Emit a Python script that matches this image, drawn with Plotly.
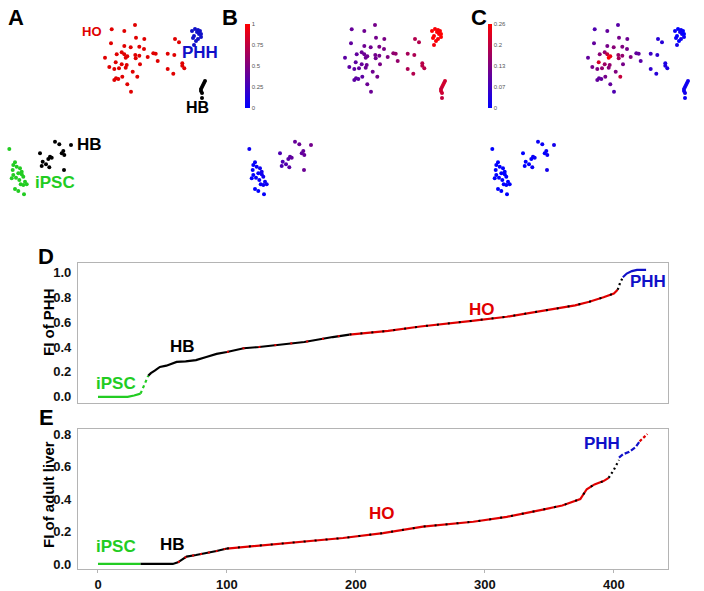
import plotly.graph_objects as go

W, H = 704, 591
FONT = "Liberation Sans, Arial, sans-serif"

# ---------------- embedding (t-SNE style) coordinates ----------------
ho_x = [111.7, 124.3, 135, 136, 144.3, 111, 124.3, 130.7, 139.3, 144, 121.7, 116.7, 124.3, 127.3,
        125.7, 105, 135.3, 139.3, 135.7, 147.7, 153.3, 155.7, 167.7, 174.3, 157.7, 175, 179, 115.7,
        121.7, 109.3, 114.3, 119, 125.7, 126.7, 140, 132.7, 137.3, 122.3, 118.3, 114.3, 116, 127.3,
        131, 167.7, 173.3, 182.3, 184.3, 182.3]
ho_y = [29.3, 31, 25, 37.7, 39, 43.3, 46, 47.3, 46.7, 49, 52.3, 54.3, 54.3, 56.3,
        57.7, 57.7, 55, 55.7, 58.3, 57, 53.3, 53.7, 53.7, 55, 61, 39, 42.3, 62.3,
        64.3, 67, 69, 68.3, 67.7, 65, 64.3, 71.7, 76.7, 76.7, 79, 80, 78.3, 84.3,
        91.7, 69, 73.7, 63.3, 68.3, 65.7]
ho_fi_phh = [0.40, 0.43, 0.46, 0.45, 0.48, 0.38, 0.43, 0.44, 0.48, 0.48, 0.41, 0.38, 0.42, 0.43,
             0.42, 0.36, 0.45, 0.46, 0.44, 0.50, 0.56, 0.58, 0.65, 0.68, 0.58, 0.70, 0.70, 0.36,
             0.40, 0.36, 0.36, 0.38, 0.42, 0.42, 0.48, 0.44, 0.46, 0.36, 0.36, 0.36, 0.36, 0.42,
             0.42, 0.68, 0.70, 0.72, 0.72, 0.72]
ho_fi_adult = [0.08, 0.10, 0.09, 0.12, 0.11, 0.10, 0.12, 0.14, 0.13, 0.12, 0.15, 0.14, 0.20, 0.24,
               0.26, 0.10, 0.16, 0.15, 0.17, 0.13, 0.10, 0.10, 0.06, 0.05, 0.09, 0.04, 0.04, 0.22,
               0.16, 0.12, 0.13, 0.15, 0.14, 0.15, 0.12, 0.13, 0.20, 0.12, 0.10, 0.10, 0.10, 0.10,
               0.08, 0.05, 0.04, 0.03, 0.03, 0.03]

phh_x = [192, 195, 197, 199, 194, 201, 198, 196, 193, 200, 198, 194, 201]
phh_y = [31, 29, 32, 34, 36, 37, 39, 41, 38, 31, 30, 45, 34]
phh_fi_phh = [1.0, 0.98, 1.0, 0.97, 0.99, 1.0, 0.96, 0.98, 1.0, 0.99, 0.97, 0.95, 1.0]
phh_fi_adult = [0.01, 0.0, 0.02, 0.01, 0.0, 0.01, 0.02, 0.0, 0.01, 0.0, 0.01, 0.02, 0.0]

hbu_x = [205, 204, 203, 202, 201, 201, 202, 202]
hbu_y = [81, 83, 85, 87, 89, 91, 93, 98]
hbu_fi_phh = [0.82, 0.80, 0.84, 0.80, 0.78, 0.82, 0.80, 0.76]
hbu_fi_adult = [0.02, 0.01, 0.02, 0.01, 0.02, 0.01, 0.02, 0.01]

hb_x = [55, 59.3, 71, 63.3, 61.7, 64.3, 40, 50, 48.3, 51.7, 42.7, 46, 49.3, 41.7, 64]
hb_y = [141.7, 144.3, 145, 151, 153.3, 155, 153.3, 156.7, 159, 157.7, 161.7, 164.3, 167.3, 166, 170]
hb_fi_phh = [0.40, 0.42, 0.45, 0.40, 0.38, 0.40, 0.30, 0.36, 0.34, 0.38, 0.30, 0.32, 0.35, 0.30, 0.42]
hb_fi_adult = [0.01, 0.01, 0.02, 0.01, 0.0, 0.01, 0.0, 0.01, 0.0, 0.01, 0.0, 0.0, 0.01, 0.0, 0.02]

ipsc_x = [9.3, 15, 13.3, 16.7, 20, 21.7, 18.3, 13.3, 11.7, 16, 23.3, 25, 20.7, 26.7, 15, 24,
          18.3, 21.7, 12.7, 19.3, 23.3]
ipsc_y = [149, 162.3, 165, 166.7, 168.3, 171.7, 173.3, 175, 178.3, 177.7, 176.7, 181.7, 184.3,
          184.3, 189, 194.3, 191, 174.3, 170, 180, 185]
ipsc_fi_phh = [0.05, 0.02, 0.0, 0.03, 0.05, 0.08, 0.02, 0.0, 0.0, 0.02, 0.06, 0.04, 0.03, 0.05,
               0.0, 0.02, 0.0, 0.06, 0.01, 0.03, 0.04]
ipsc_fi_adult = [0.0] * 21

# ---------------- sorted fusion index curves (panels D and E) ----------------
d_ipsc_x = [0, 23, 28, 33]
d_ipsc_y = [0.0, 0.0, 0.01, 0.025]
d_gap1_x = [33, 36, 39]
d_gap1_y = [0.025, 0.10, 0.17]
d_hb_x = [39, 41, 44, 48, 53, 61, 68, 76, 84, 92, 100, 113, 125, 143, 160, 182, 195]
d_hb_y = [0.17, 0.19, 0.21, 0.24, 0.25, 0.28, 0.285, 0.295, 0.32, 0.345, 0.36, 0.39, 0.40, 0.42,
          0.44, 0.48, 0.50]
d_ho_x = [195, 225, 250, 265, 290, 317, 340, 356, 370, 381, 392, 400, 403]
d_ho_y = [0.50, 0.53, 0.565, 0.584, 0.61, 0.643, 0.68, 0.71, 0.735, 0.764, 0.80, 0.83, 0.86]
d_gap2_x = [403, 405, 407]
d_gap2_y = [0.86, 0.92, 0.96]
d_phh_x = [407, 410, 414, 418, 425]
d_phh_y = [0.96, 0.99, 1.01, 1.02, 1.02]

e_ipsc_x = [0, 33]
e_ipsc_y = [0.0, 0.0]
e_hb_x = [33, 58, 62, 68.7, 76, 84, 92, 100]
e_hb_y = [0.0, 0.0, 0.01, 0.045, 0.055, 0.066, 0.08, 0.095]
e_ho_x = [100, 120, 156, 190, 221, 252, 291, 317, 345, 360, 374, 379, 385, 392, 396]
e_ho_y = [0.095, 0.11, 0.137, 0.16, 0.19, 0.23, 0.26, 0.29, 0.335, 0.36, 0.40, 0.46, 0.49, 0.51, 0.53]
e_gap_x = [396, 400, 404]
e_gap_y = [0.53, 0.58, 0.64]
e_phh_x = [404, 407, 412, 417, 420]
e_phh_y = [0.655, 0.675, 0.69, 0.72, 0.755]
e_tail_x = [420, 423, 426]
e_tail_y = [0.755, 0.775, 0.80]

x_ticks = [0, 100, 200, 300, 400]
d_y_ticks = [0.0, 0.2, 0.4, 0.6, 0.8, 1.0]
e_y_ticks = [0.0, 0.2, 0.4, 0.6, 0.8]

RED = "#e00000"
BLUE = "#1010c8"
GREEN = "#22cc22"
BLACK = "#000000"


def px(x):
    return x / W


def py(y):
    return 1 - y / H


fig = go.Figure()

# ---------------- panels A, B, C ----------------
groups = [
    (ho_x, ho_y, RED, ho_fi_phh, ho_fi_adult),
    (phh_x, phh_y, BLUE, phh_fi_phh, phh_fi_adult),
    (hbu_x, hbu_y, BLACK, hbu_fi_phh, hbu_fi_adult),
    (hb_x, hb_y, BLACK, hb_fi_phh, hb_fi_adult),
    (ipsc_x, ipsc_y, GREEN, ipsc_fi_phh, ipsc_fi_adult),
]
for gx, gy, col, b, c in groups:
    fig.add_trace(go.Scatter(x=gx, y=gy, mode="markers", xaxis="x", yaxis="y",
                             marker=dict(size=4, color=col), showlegend=False, hoverinfo="skip"))
    fig.add_trace(go.Scatter(x=gx, y=gy, mode="markers", xaxis="x2", yaxis="y2",
                             marker=dict(size=4, color=b, coloraxis="coloraxis"),
                             showlegend=False, hoverinfo="skip"))
    fig.add_trace(go.Scatter(x=gx, y=gy, mode="markers", xaxis="x3", yaxis="y3",
                             marker=dict(size=4, color=c, coloraxis="coloraxis2"),
                             showlegend=False, hoverinfo="skip"))


# ---------------- panels D, E ----------------
def seg(x, y, color, ax, ay, dash="solid", width=2.2):
    fig.add_trace(go.Scatter(x=x, y=y, mode="lines", xaxis=ax, yaxis=ay,
                             line=dict(color=color, width=width, dash=dash),
                             showlegend=False, hoverinfo="skip"))


seg(d_ipsc_x, d_ipsc_y, GREEN, "x4", "y4")
seg(d_gap1_x, d_gap1_y, GREEN, "x4", "y4", dash="3px,3px")
seg(d_hb_x, d_hb_y, BLACK, "x4", "y4")
seg(d_hb_x[10:], d_hb_y[10:], RED, "x4", "y4", dash="2px,14px", width=2)
seg(d_ho_x, d_ho_y, RED, "x4", "y4")
seg(d_ho_x, d_ho_y, BLACK, "x4", "y4", dash="2px,9px", width=2)
seg(d_gap2_x, d_gap2_y, BLACK, "x4", "y4", dash="2px,3px")
seg(d_phh_x, d_phh_y, BLUE, "x4", "y4")

seg(e_ipsc_x, e_ipsc_y, GREEN, "x5", "y5")
seg(e_hb_x, e_hb_y, BLACK, "x5", "y5")
seg(e_hb_x[2:], e_hb_y[2:], RED, "x5", "y5", dash="2px,6px", width=2)
seg(e_ho_x, e_ho_y, RED, "x5", "y5")
seg(e_ho_x, e_ho_y, BLACK, "x5", "y5", dash="2px,9px", width=2)
seg(e_gap_x, e_gap_y, BLACK, "x5", "y5", dash="2px,3px")
seg(e_phh_x, e_phh_y, BLUE, "x5", "y5", dash="5px,2px")
seg(e_tail_x, e_tail_y, RED, "x5", "y5", dash="3px,2px")

hidden = dict(visible=False, showgrid=False, zeroline=False, automargin=False)
frame = dict(showline=True, mirror=True, linecolor="#b4b4b4", linewidth=1.2,
             showgrid=False, zeroline=False, automargin=False)
tickfont = dict(family=FONT, size=13, color="#111", weight="bold")

fig.update_layout(
    width=W, height=H,
    margin=dict(l=0, r=0, t=0, b=0),
    paper_bgcolor="white", plot_bgcolor="white",
    font=dict(family=FONT),
    xaxis=dict(domain=[px(0), px(220)], range=[0, 220], anchor="y", **hidden),
    yaxis=dict(domain=[py(200), py(10)], range=[200, 10], anchor="x", **hidden),
    xaxis2=dict(domain=[px(240), px(460)], range=[0, 220], anchor="y2", **hidden),
    yaxis2=dict(domain=[py(200), py(10)], range=[200, 10], anchor="x2", **hidden),
    xaxis3=dict(domain=[px(483), px(703)], range=[0, 220], anchor="y3", **hidden),
    yaxis3=dict(domain=[py(200), py(10)], range=[200, 10], anchor="x3", **hidden),
    xaxis4=dict(domain=[px(78), px(668)], range=[-15.5, 442], showticklabels=False,
                ticks="", anchor="y4", **frame),
    yaxis4=dict(domain=[py(403), py(263)], range=[-0.05, 1.075], tickvals=d_y_ticks,
                tickformat=".1f", ticks="", ticklabelstandoff=3, tickfont=tickfont,
                anchor="x4", **frame),
    xaxis5=dict(domain=[px(78), px(668)], range=[-15.5, 442], tickvals=x_ticks,
                ticks="outside", ticklen=3, tickcolor="#b4b4b4", tickfont=tickfont,
                ticklabelstandoff=0, anchor="y5", **frame),
    yaxis5=dict(domain=[py(569), py(429)], range=[-0.031, 0.831], tickvals=e_y_ticks,
                tickformat=".1f", ticks="", ticklabelstandoff=3, tickfont=tickfont,
                anchor="x5", **frame),
    coloraxis=dict(
        cmin=0, cmax=1, colorscale=[[0, "#0000ff"], [1, "#ff0000"]],
        colorbar=dict(x=px(245), xanchor="left", y=py(24), yanchor="top",
                      len=84, lenmode="pixels", thickness=5, thicknessmode="pixels",
                      outlinewidth=0, xpad=0, ypad=0, ticks="",
                      tickvals=[0, 0.25, 0.5, 0.75, 1], ticktext=["0", "0.25", "0.5", "0.75", "1"],
                      tickfont=dict(family=FONT, size=6, color="#555"))),
    coloraxis2=dict(
        cmin=0, cmax=0.26, colorscale=[[0, "#0000ff"], [1, "#ff0000"]],
        colorbar=dict(x=px(488), xanchor="left", y=py(24), yanchor="top",
                      len=84, lenmode="pixels", thickness=4, thicknessmode="pixels",
                      outlinewidth=0, xpad=0, ypad=0, ticks="",
                      tickvals=[0, 0.065, 0.13, 0.195, 0.26],
                      ticktext=["0", "0.07", "0.13", "0.2", "0.26"],
                      tickfont=dict(family=FONT, size=6, color="#555"))),
)


def label(text, x, y, size, color, angle=0):
    fig.add_annotation(text=text, x=px(x), y=py(y), xref="paper", yref="paper",
                       showarrow=False, textangle=angle, xanchor="center", yanchor="middle",
                       font=dict(family=FONT, size=size, color=color, weight="bold"))


# panel letters
label("A", 16, 18, 22, BLACK)
label("B", 230, 18, 22, BLACK)
label("C", 479, 18, 22, BLACK)
label("D", 46, 256, 22, BLACK)
label("E", 46, 417, 22, BLACK)

# panel A cluster labels
label("HO", 92, 32, 13, RED)
label("PHH", 200, 53, 17, BLUE)
label("HB", 197, 107, 16, BLACK)
label("HB", 89, 144, 17, BLACK)
label("iPSC", 55, 183, 17, GREEN)

# panel D labels
label("iPSC", 116, 384, 17, GREEN)
label("HB", 182, 346, 17, BLACK)
label("HO", 482, 309, 17, RED)
label("PHH", 648, 281, 17, BLUE)

# panel E labels
label("iPSC", 116, 546, 17, GREEN)
label("HB", 172, 544, 17, BLACK)
label("HO", 382, 513, 17, RED)
label("PHH", 602, 443, 17, BLUE)

# y-axis titles
label("FI of PHH", 48, 322, 15, BLACK, angle=-90)
label("FI of adult liver", 48, 495, 15, BLACK, angle=-90)

fig.write_html(
    "out.html",
    config={"displayModeBar": False},
    post_script="document.body.style.margin='0';document.body.style.overflow='hidden';",
)
